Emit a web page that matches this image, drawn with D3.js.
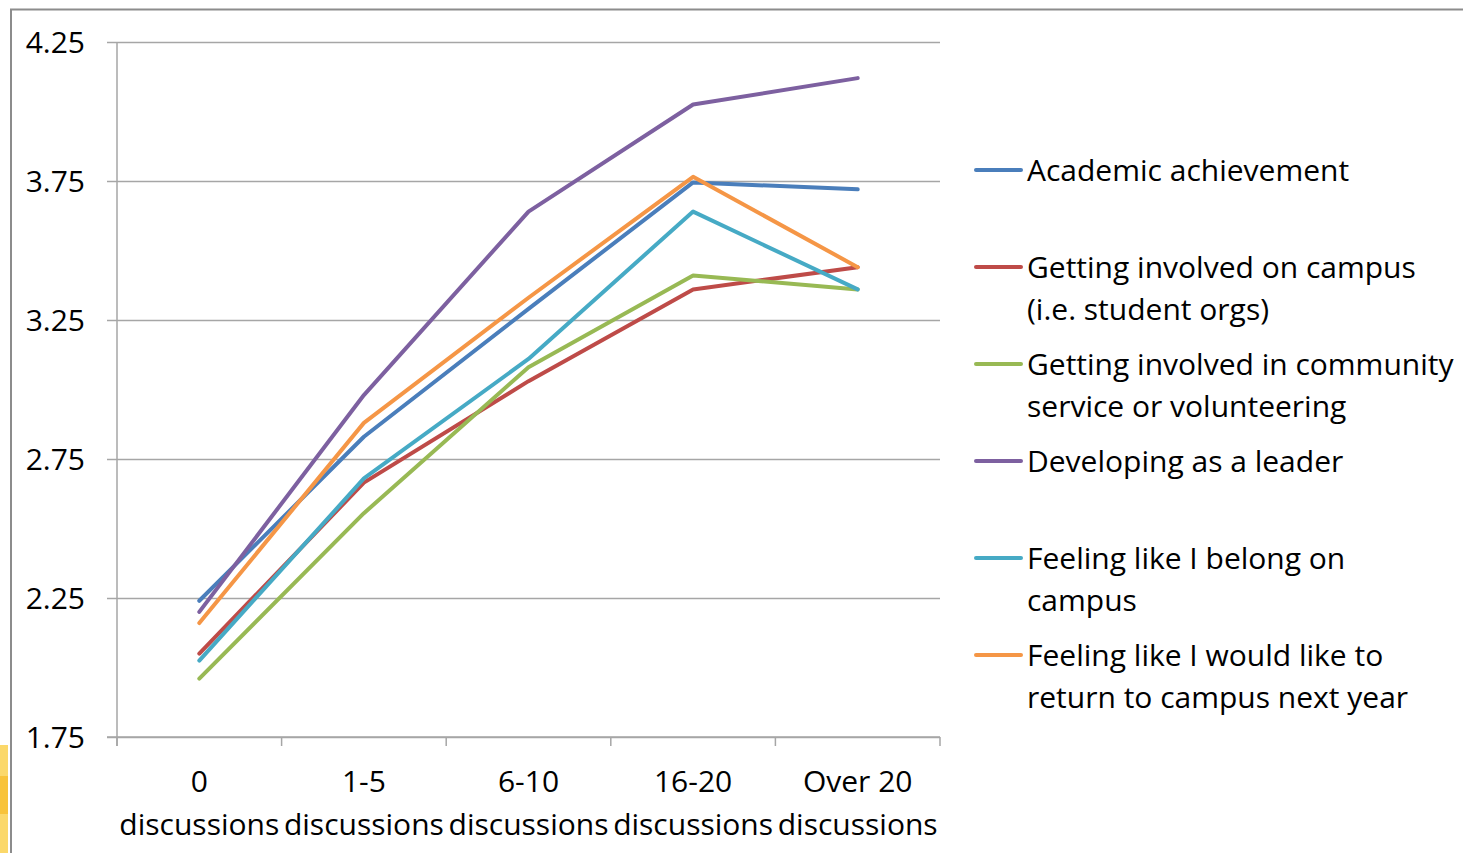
<!DOCTYPE html>
<html>
<head>
<meta charset="utf-8">
<script src="https://cdn.jsdelivr.net/npm/d3@7/dist/d3.min.js"></script>
<style>
  html, body { margin: 0; padding: 0; background: #fff; }
  svg { display: block; }
  text { font-family: "Open Sans", Lato, sans-serif; fill: #000; }
</style>
</head>
<body>
<svg id="chart" width="1463" height="853"></svg>
<script>
// Categories along the x axis (two-line labels)
const categories = ["0", "1-5", "6-10", "16-20", "Over 20"];
const categorySubLabel = "discussions";

// Y axis ticks
const yTicks = [1.75, 2.25, 2.75, 3.25, 3.75, 4.25];

// Series names (legend text, line-broken as shown)
const seriesNames = [
  ["Academic achievement"],
  ["Getting involved on campus", "(i.e. student orgs)"],
  ["Getting involved in community", "service or volunteering"],
  ["Developing as a leader"],
  ["Feeling like I belong on", "campus"],
  ["Feeling like I would like to", "return to campus next year"]
];

// Mean ratings per category
const academic   = [2.24, 2.83, 3.29, 3.745, 3.72];
const involved   = [2.05, 2.665, 3.03, 3.36, 3.44];
const community  = [1.96, 2.555, 3.08, 3.41, 3.36];
const leader     = [2.20, 2.98, 3.64, 4.025, 4.12];
const belong     = [2.025, 2.68, 3.11, 3.64, 3.36];
const returnNext = [2.16, 2.88, 3.33, 3.765, 3.44];

const seriesValues = [academic, involved, community, leader, belong, returnNext];
const seriesColors = ["#4a7ebb", "#be4b48", "#98b954", "#7d60a0", "#46aac5", "#f59646"];

const FONT = 30;

const svg = d3.select("#chart");

// Outer frame and side accent
svg.append("rect")
  .attr("x", 0).attr("y", 745).attr("width", 8).attr("height", 108)
  .attr("fill", "#fbd86a");
svg.append("rect")
  .attr("x", 0).attr("y", 776).attr("width", 8).attr("height", 38)
  .attr("fill", "#f8c33a");
svg.append("path")
  .attr("d", "M11,853 V9.5 H1463")
  .attr("fill", "none").attr("stroke", "#8c8c8c").attr("stroke-width", 2);

const plot = { left: 117, right: 940, top: 42, bottom: 737 };

const x = d3.scaleBand().domain(categories).range([plot.left, plot.right]).padding(0);
const y = d3.scaleLinear().domain([1.75, 4.25]).range([plot.bottom, plot.top]);

// Horizontal gridlines with value labels
const yAxis = d3.axisLeft(y)
  .tickValues(yTicks)
  .tickSize(-(plot.right - plot.left))
  .tickPadding(32)
  .tickFormat(d3.format(".2f"));
const gy = svg.append("g")
  .attr("transform", `translate(${plot.left},0)`)
  .call(yAxis);
gy.select(".domain").remove();
gy.selectAll(".tick line")
  .attr("x1", -10)
  .attr("stroke", "#a6a6a6").attr("stroke-width", 1.5);
gy.selectAll(".tick text")
  .attr("font-size", FONT).attr("font-family", "'Open Sans', sans-serif")
  .attr("dy", "0.36em").attr("fill", "#000");

// Vertical axis line
svg.append("line")
  .attr("x1", plot.left).attr("x2", plot.left)
  .attr("y1", plot.top).attr("y2", plot.bottom + 9)
  .attr("stroke", "#a6a6a6").attr("stroke-width", 1.5);

// X axis with tick marks between categories
const boundaries = categories.map(c => x(c)).concat([x(categories[categories.length - 1]) + x.bandwidth()]);
svg.append("line")
  .attr("x1", plot.left - 10).attr("x2", plot.right)
  .attr("y1", plot.bottom).attr("y2", plot.bottom)
  .attr("stroke", "#a6a6a6").attr("stroke-width", 1.5);
svg.selectAll(".xtick").data(boundaries).enter().append("line")
  .attr("class", "xtick")
  .attr("x1", d => d).attr("x2", d => d)
  .attr("y1", plot.bottom).attr("y2", plot.bottom + 9)
  .attr("stroke", "#a6a6a6").attr("stroke-width", 1.5);

const xl = svg.selectAll(".xlab").data(categories).enter().append("text")
  .attr("class", "xlab")
  .attr("text-anchor", "middle")
  .attr("font-size", FONT);
xl.append("tspan")
  .attr("x", d => x(d) + x.bandwidth() / 2)
  .attr("y", 792)
  .text(d => d);
xl.append("tspan")
  .attr("x", d => x(d) + x.bandwidth() / 2)
  .attr("y", 835)
  .text(categorySubLabel);

// Lines
const line = d3.line()
  .x((d, i) => x(categories[i]) + x.bandwidth() / 2)
  .y(d => y(d));

svg.selectAll(".series").data(seriesValues).enter().append("path")
  .attr("class", "series")
  .attr("d", d => line(d))
  .attr("fill", "none")
  .attr("stroke", (d, i) => seriesColors[i])
  .attr("stroke-width", 4)
  .attr("stroke-linejoin", "round")
  .attr("stroke-linecap", "round");

// Legend
const legendTop = [170, 267, 364, 461, 558, 655];
const legend = svg.selectAll(".legend").data(seriesNames).enter().append("g")
  .attr("class", "legend")
  .attr("transform", (d, i) => `translate(0,${legendTop[i]})`);
legend.append("line")
  .attr("x1", 976).attr("x2", 1021)
  .attr("y1", 0).attr("y2", 0)
  .attr("stroke", (d, i) => seriesColors[i])
  .attr("stroke-width", 4)
  .attr("stroke-linecap", "round");
legend.append("text")
  .attr("font-size", FONT)
  .selectAll("tspan").data(d => d).enter().append("tspan")
  .attr("x", 1027)
  .attr("y", (d, i) => i * 42)
  .attr("dy", "0.35em")
  .text(d => d);
</script>
</body>
</html>
